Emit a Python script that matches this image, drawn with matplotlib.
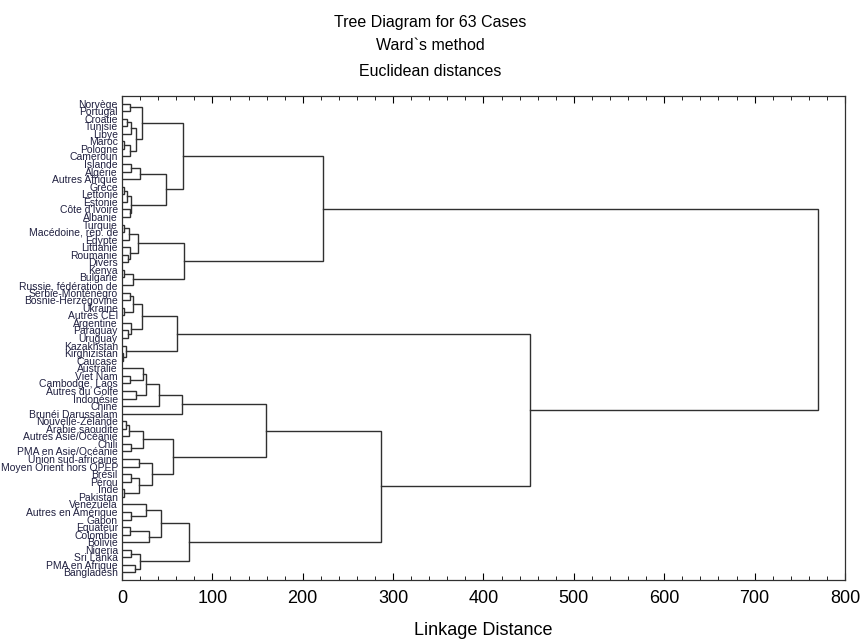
import matplotlib.pyplot as plt
from matplotlib.ticker import MultipleLocator

plt.rcParams['font.family'] = ['Liberation Sans', 'DejaVu Sans']

# leaf labels, top to bottom
labels = [
    'Norvège', 'Portugal', 'Croatie', 'Tunisie', 'Libye', 'Maroc', 'Pologne',
    'Cameroun', 'Islande', 'Algérie', 'Autres Afrique', 'Grèce', 'Lettonie',
    'Estonie', "Côte d'Ivoire", 'Albanie', 'Turquie', 'Macédoine, rép. de',
    'Egypte', 'Lituanie', 'Roumanie', 'Divers', 'Kenya', 'Bulgarie',
    'Russie, fédération de', 'Serbie-Monténégro', 'Bosnie-Herzégovine',
    'Ukraine', 'Autres CEI', 'Argentine', 'Paraguay', 'Uruguay', 'Kazakhstan',
    'Kirghizistan', 'Caucase', 'Australie', 'Viet Nam', 'Cambodge, Laos',
    'Autres du Golfe', 'Indonésie', 'Chine', 'Brunéi Darussalam',
    'Nouvelle-Zélande', 'Arabie saoudite', 'Autres Asie/Océanie', 'Chili',
    'PMA en Asie/Océanie', 'Union sud-africaine', 'Moyen Orient hors OPEP',
    'Brésil', 'Pérou', 'Inde', 'Pakistan', 'Venezuela', 'Autres en Amérique',
    'Gabon', 'Equateur', 'Colombie', 'Bolivie', 'Nigeria', 'Sri Lanka',
    'PMA en Afrique', 'Bangladesh',
]

# linkage table: (left, right, distance); leaves are 0..62, new nodes from 63 on
merges = [
    (0, 1, 9), (2, 3, 5), (64, 4, 9.6), (5, 6, 2), (66, 7, 8.8),
    (65, 67, 15.5), (63, 68, 22), (8, 9, 10), (70, 10, 20), (11, 12, 2),
    (72, 13, 5.9), (14, 15, 8.8), (73, 74, 10), (71, 75, 49), (69, 76, 67),
    (16, 17, 2.5), (78, 18, 8), (20, 21, 7), (19, 80, 9), (79, 81, 17.7),
    (22, 23, 2.5), (83, 24, 12.5), (82, 84, 69), (77, 85, 222),
    (25, 26, 8.8), (27, 28, 2), (87, 88, 12.5), (30, 31, 7), (29, 90, 10),
    (89, 91, 22), (33, 34, 1.5), (32, 93, 4.5), (92, 94, 61),
    (36, 37, 8.8), (35, 96, 23.6), (38, 39, 15), (97, 98, 26), (99, 40, 41),
    (100, 41, 66), (42, 43, 4.5), (102, 44, 8), (45, 46, 9.5),
    (103, 104, 23.6), (47, 48, 18.5), (49, 50, 9.5), (51, 52, 2.5),
    (107, 108, 19), (106, 109, 33.5), (105, 110, 56), (101, 111, 159),
    (54, 55, 9.5), (53, 113, 26), (56, 57, 9), (115, 58, 30),
    (114, 116, 43), (59, 60, 9.5), (61, 62, 14.7), (118, 119, 20),
    (117, 120, 74.5), (112, 121, 287), (95, 122, 452), (86, 123, 770),
]

fig = plt.figure(figsize=(8.61, 6.39), dpi=100)
ax = fig.add_axes([0.1417, 0.0923, 0.8397, 0.7575])

n = len(labels)
xpos = {i: 0.0 for i in range(n)}
ypos = {i: i + 1 for i in range(n)}
for k, (a, b, h) in enumerate(merges):
    ax.plot([xpos[a], h, h, xpos[b]], [ypos[a], ypos[a], ypos[b], ypos[b]],
            color='#303030', lw=1.0, solid_joinstyle='miter')
    xpos[n + k] = h
    ypos[n + k] = (ypos[a] + ypos[b]) / 2

ax.set_xlim(0, 800)
ax.set_ylim(64, 0)
ax.set_yticks(range(1, n + 1))
ax.set_yticklabels(labels, fontsize=7.5, color='#202040')
ax.tick_params(axis='y', length=0, pad=3)
ax.xaxis.set_major_locator(MultipleLocator(100))
ax.xaxis.set_minor_locator(MultipleLocator(20))
ax.tick_params(axis='x', which='both', direction='in', top=True, labelsize=13, pad=7)
ax.tick_params(axis='x', which='major', length=5)
ax.tick_params(axis='x', which='minor', length=3)
for s in ax.spines.values():
    s.set_linewidth(0.9)
    s.set_color('#303030')
ax.set_xlabel('Linkage Distance', fontsize=13, labelpad=11)

fig.text(0.5, 1 - 22 / 639, 'Tree Diagram for 63 Cases', ha='center', va='center', fontsize=11.5)
fig.text(0.5, 1 - 46 / 639, 'Ward`s method', ha='center', va='center', fontsize=11.5)
fig.text(0.5, 1 - 71 / 639, 'Euclidean distances', ha='center', va='center', fontsize=11.5)

fig.savefig('out.png', dpi=100)
